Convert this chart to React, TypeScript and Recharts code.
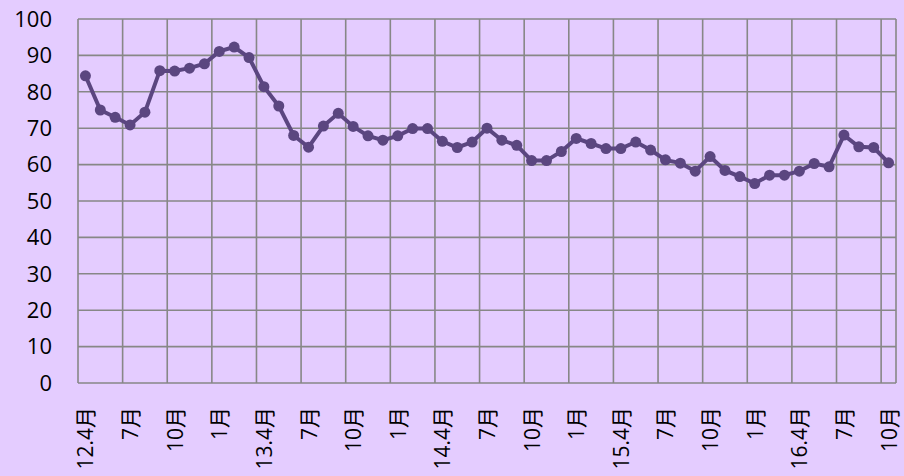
import React from 'react';
import { LineChart, Line, XAxis, YAxis, CartesianGrid } from 'recharts';

// 2012.4 - 2016.10, monthly
const months = [
  '2012-04', '2012-05', '2012-06', '2012-07', '2012-08', '2012-09', '2012-10', '2012-11', '2012-12',
  '2013-01', '2013-02', '2013-03', '2013-04', '2013-05', '2013-06', '2013-07', '2013-08', '2013-09',
  '2013-10', '2013-11', '2013-12', '2014-01', '2014-02', '2014-03', '2014-04', '2014-05', '2014-06',
  '2014-07', '2014-08', '2014-09', '2014-10', '2014-11', '2014-12', '2015-01', '2015-02', '2015-03',
  '2015-04', '2015-05', '2015-06', '2015-07', '2015-08', '2015-09', '2015-10', '2015-11', '2015-12',
  '2016-01', '2016-02', '2016-03', '2016-04', '2016-05', '2016-06', '2016-07', '2016-08', '2016-09',
  '2016-10',
];

const values = [
  84.4, 75.0, 73.0, 70.9, 74.4, 85.8, 85.7, 86.5, 87.7, 91.1, 92.3, 89.4, 81.4, 76.1, 68.0, 64.8,
  70.6, 74.1, 70.5, 67.9, 66.7, 67.9, 69.9, 69.9, 66.4, 64.7, 66.2, 70.0, 66.7, 65.3, 61.1, 61.1,
  63.6, 67.2, 65.8, 64.4, 64.4, 66.2, 64.0, 61.3, 60.4, 58.2, 62.2, 58.4, 56.7, 54.8, 57.1, 57.1,
  58.2, 60.3, 59.4, 68.1, 64.9, 64.7, 60.5,
];

// one label every 3 months
const tickLabels = [
  '12.4月', '7月', '10月', '1月', '13.4月', '7月', '10月', '1月', '14.4月', '7月',
  '10月', '1月', '15.4月', '7月', '10月', '1月', '16.4月', '7月', '10月',
];

const yTicks = [0, 10, 20, 30, 40, 50, 60, 70, 80, 90, 100];

const data = values.map((v, i) => ({ idx: i, month: months[i], value: v }));
const xTicks = tickLabels.map((_, i) => i * 3);
// vertical grid sits on category boundaries
const gridValues = tickLabels.map((_, i) => i * 3 - 0.5);

const FONT = '"Open Sans", "Noto Sans CJK JP", sans-serif';
const LINE_COLOR = '#5B4680';
const GRID_COLOR = '#878787';

const RotatedTick = ({ x, y, payload }: any) => (
  <g transform={`translate(${x},${y})`}>
    <text
      transform="rotate(-90)"
      textAnchor="end"
      dominantBaseline="central"
      fill="#000"
      fontSize={21}
      fontFamily={FONT}
    >
      {tickLabels[Math.round(payload.value / 3)]}
    </text>
  </g>
);

export default function App() {
  return (
    <div style={{ position: 'fixed', left: 0, top: 0, width: 904, height: 476, background: '#E4CCFF' }}>
      <LineChart width={904} height={476} data={data} margin={{ top: 19, right: 8, left: 0, bottom: 0 }}>
        <CartesianGrid stroke={GRID_COLOR} strokeWidth={1.6} xAxisId="grid" />
        <XAxis
          dataKey="idx"
          type="number"
          domain={[-0.5, 54.5]}
          allowDataOverflow
          ticks={xTicks}
          interval={0}
          axisLine={false}
          tickLine={false}
          tickSize={0}
          tickMargin={24}
          height={93}
          tick={<RotatedTick />}
        />
        {/* hidden axis only used to place the vertical grid on month boundaries */}
        <XAxis
          xAxisId="grid"
          dataKey="idx"
          type="number"
          domain={[-0.5, 54.5]}
          allowDataOverflow
          ticks={gridValues}
          interval={0}
          hide
          height={93}
        />
        <YAxis
          type="number"
          domain={[0, 100]}
          ticks={yTicks}
          interval={0}
          axisLine={false}
          tickLine={false}
          tickSize={0}
          tickMargin={26}
          width={78}
          tick={{ fill: '#000', fontSize: 22, fontFamily: FONT }}
        />
        <Line
          type="linear"
          dataKey="value"
          stroke={LINE_COLOR}
          strokeWidth={4}
          dot={{ r: 5.5, fill: LINE_COLOR, stroke: LINE_COLOR, strokeWidth: 0 }}
          activeDot={false}
          isAnimationActive={false}
        />
      </LineChart>
    </div>
  );
}
